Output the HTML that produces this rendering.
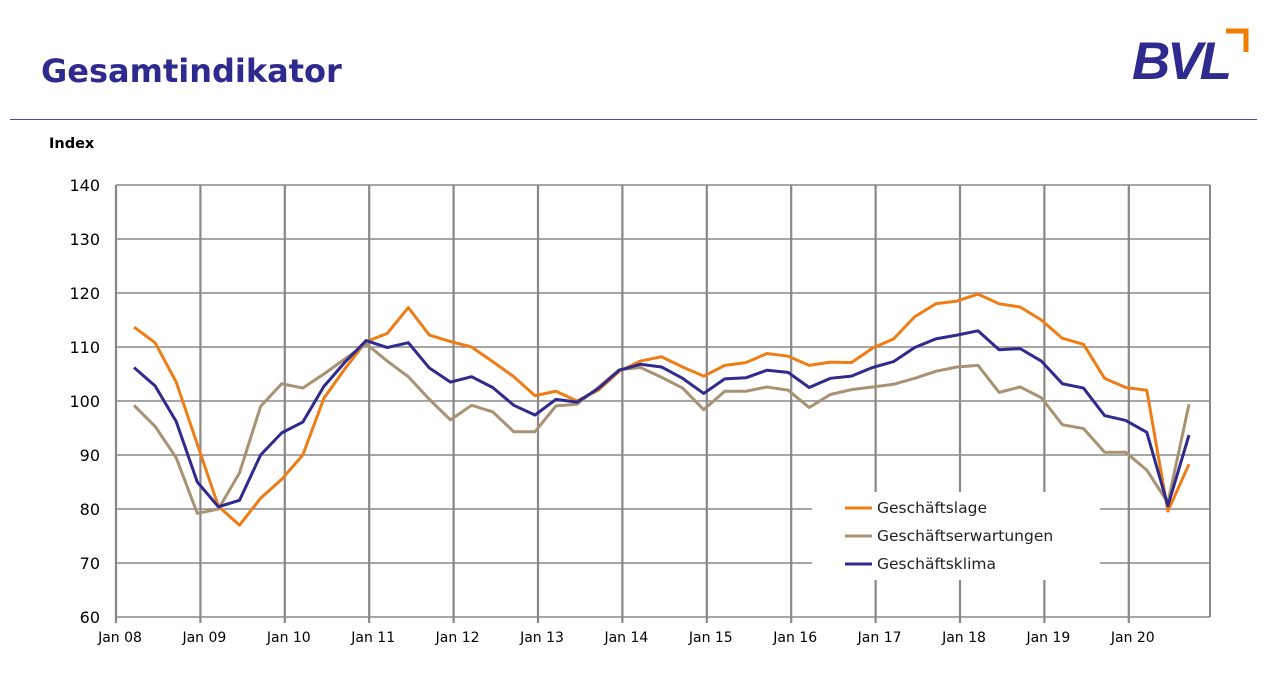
<!DOCTYPE html>
<html><head><meta charset="utf-8"><style>
body{margin:0;width:1267px;height:682px;background:#fff;font-family:"DejaVu Sans","Liberation Sans",sans-serif;overflow:hidden;position:relative}
.title{position:absolute;left:41px;top:52px;font-size:32px;font-weight:bold;color:#2e2a8e;font-family:"DejaVu Sans",sans-serif}
.logo{position:absolute;left:1132px;top:31px;font-size:53px;font-weight:bold;font-style:italic;color:#2e2a8e;letter-spacing:-3px;font-family:"Liberation Sans",sans-serif}
.rule{position:absolute;left:10px;top:119px;width:1247px;height:1px;background:#4b46a0}
.idx{position:absolute;left:49px;top:136px;font-size:14.5px;font-weight:bold;color:#000}
svg{position:absolute;left:0;top:0}
</style></head><body>
<div class="title">Gesamtindikator</div>
<div class="logo">BVL</div>
<svg width="1267" height="682" style="pointer-events:none"><path d="M1226 31 H1246 V52" fill="none" stroke="#f07c00" stroke-width="5"/></svg>
<div class="rule"></div>
<div class="idx">Index</div>
<svg id="chart" width="1267" height="682"></svg>
<script>
const yearLabels=["Jan 08","Jan 09","Jan 10","Jan 11","Jan 12","Jan 13","Jan 14","Jan 15","Jan 16","Jan 17","Jan 18","Jan 19","Jan 20"];
const yTicks=[60,70,80,90,100,110,120,130,140];
const seriesNames=["Geschäftslage","Geschäftserwartungen","Geschäftsklima"];
const lage=[113.7,110.8,103.5,92,80.5,77,82,85.5,90,100.5,106,111,112.5,117.3,112.2,111,110,107.3,104.5,101,101.8,100,102,105.5,107.4,108.2,106.3,104.6,106.6,107.1,108.8,108.3,106.6,107.2,107.1,109.8,111.5,115.6,118,118.5,119.8,118,117.4,115,111.6,110.5,104.2,102.5,102,79.6,88.3];
const erwartungen=[99.2,95.3,89.5,79.2,80,86.7,99,103.2,102.4,105,107.8,110.6,107.4,104.5,100.3,96.5,99.2,98,94.3,94.3,99.1,99.4,102.5,105.8,106.2,104.4,102.4,98.4,101.8,101.8,102.6,102,98.8,101.2,102.1,102.6,103.1,104.2,105.5,106.3,106.6,101.6,102.6,100.6,95.6,94.9,90.5,90.5,87.2,81.2,99.4];
const klima=[106.2,102.8,96.2,85,80.4,81.6,90,94.1,96.1,102.7,107.2,111.2,109.9,110.8,106.1,103.5,104.5,102.5,99.2,97.4,100.3,99.8,102.3,105.7,106.8,106.3,104.2,101.4,104.1,104.3,105.7,105.3,102.5,104.2,104.6,106.2,107.3,109.9,111.5,112.2,113,109.5,109.7,107.4,103.2,102.4,97.3,96.4,94.2,80.6,93.7];
const colors=["#ef7d16","#a89272","#2e2a8e"];
const svg=document.getElementById('chart');const NS="http://www.w3.org/2000/svg";
const X0=116,X1=1210,Y0=617,Y1=185,YEAR=84.4;
const xq=i=>X0+18+i*YEAR/4;
const xy=k=>X0+k*YEAR;
const yv=v=>Y0-(v-60)/80*(Y0-Y1);
function el(t,a){const e=document.createElementNS(NS,t);for(const k in a)e.setAttribute(k,a[k]);svg.appendChild(e);return e;}
yTicks.forEach(v=>{const l=el('line',{x1:X0,x2:X1,y1:yv(v),y2:yv(v),stroke:'#888','stroke-width':1.6});


const t=el('text',{x:100,y:yv(v)+6,'text-anchor':'end','font-size':16,fill:'#000'});t.textContent=v;

});
yearLabels.forEach((s,k)=>{const x=xy(k);const l=el('line',{x1:x,x2:x,y1:Y1,y2:Y0+6,stroke:'#888','stroke-width':2.2});


const t=el('text',{x:x+4,y:642,'text-anchor':'middle','font-size':14,fill:'#000'});t.textContent=s;

});
const fr=el('line',{x1:X1,x2:X1,y1:Y1,y2:Y0,stroke:'#888','stroke-width':2});


const lb=el('rect',{x:812,y:492,width:288,height:88,fill:'#fff'});


[lage,erwartungen,klima].forEach((d,s)=>{const p=el('polyline',{points:d.map((v,i)=>xq(i)+','+yv(v)).join(' '),fill:'none',stroke:colors[s],'stroke-width':3,'stroke-linejoin':'round'});


const y=508+s*28;const ll=el('line',{x1:845,x2:872,y1:y,y2:y,stroke:colors[s],'stroke-width':3});


const t=el('text',{x:877,y:y+5,'font-size':15.5,fill:'#222'});t.textContent=seriesNames[s];

});
</script>
</body></html>
